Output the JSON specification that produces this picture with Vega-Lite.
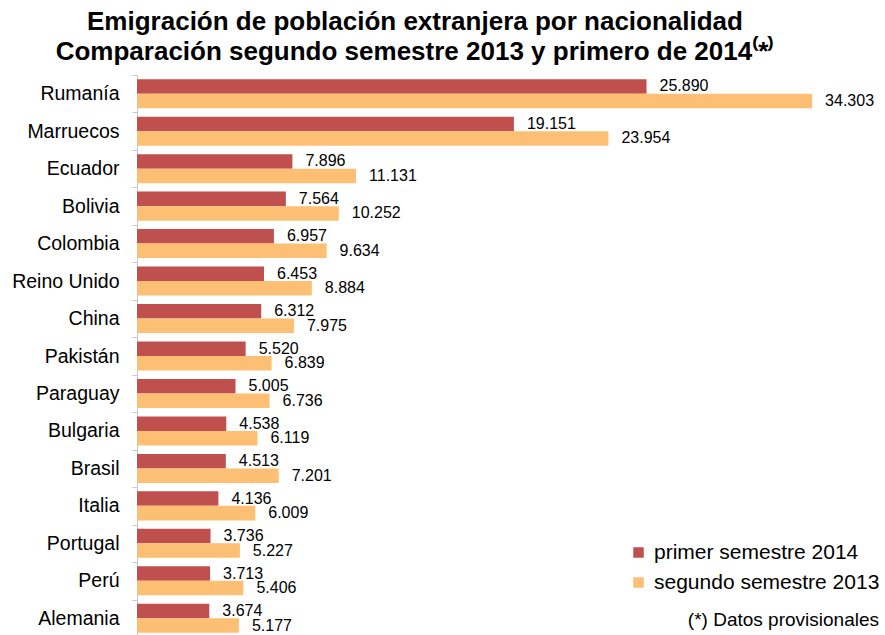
{
  "$schema": "https://vega.github.io/schema/vega-lite/v6.json",
  "width": 740,
  "height": 562,
  "autosize": {"type": "none"},
  "padding": {"left": 137, "top": 75, "right": 8, "bottom": 0},
  "background": "white",
  "config": {
    "font": "Liberation Sans",
    "view": {"stroke": null},
    "locale": {"number": {"decimal": ",", "thousands": ".", "grouping": [3], "currency": ["", " €"]}}
  },
  "title": {
    "text": ["Emigración de población extranjera por nacionalidad", "Comparación segundo semestre 2013 y primero de 2014⁽*⁾"],
    "fontSize": 26,
    "fontWeight": "bold",
    "font": "Liberation Sans",
    "color": "#000000",
    "anchor": "middle",
    "lineHeight": 30,
    "dx": -92,
    "offset": 0
  },
  "data": {
    "values": [
      {"pais": "Rumanía", "serie": "primer semestre 2014", "valor": 25890},
      {"pais": "Rumanía", "serie": "segundo semestre 2013", "valor": 34303},
      {"pais": "Marruecos", "serie": "primer semestre 2014", "valor": 19151},
      {"pais": "Marruecos", "serie": "segundo semestre 2013", "valor": 23954},
      {"pais": "Ecuador", "serie": "primer semestre 2014", "valor": 7896},
      {"pais": "Ecuador", "serie": "segundo semestre 2013", "valor": 11131},
      {"pais": "Bolivia", "serie": "primer semestre 2014", "valor": 7564},
      {"pais": "Bolivia", "serie": "segundo semestre 2013", "valor": 10252},
      {"pais": "Colombia", "serie": "primer semestre 2014", "valor": 6957},
      {"pais": "Colombia", "serie": "segundo semestre 2013", "valor": 9634},
      {"pais": "Reino Unido", "serie": "primer semestre 2014", "valor": 6453},
      {"pais": "Reino Unido", "serie": "segundo semestre 2013", "valor": 8884},
      {"pais": "China", "serie": "primer semestre 2014", "valor": 6312},
      {"pais": "China", "serie": "segundo semestre 2013", "valor": 7975},
      {"pais": "Pakistán", "serie": "primer semestre 2014", "valor": 5520},
      {"pais": "Pakistán", "serie": "segundo semestre 2013", "valor": 6839},
      {"pais": "Paraguay", "serie": "primer semestre 2014", "valor": 5005},
      {"pais": "Paraguay", "serie": "segundo semestre 2013", "valor": 6736},
      {"pais": "Bulgaria", "serie": "primer semestre 2014", "valor": 4538},
      {"pais": "Bulgaria", "serie": "segundo semestre 2013", "valor": 6119},
      {"pais": "Brasil", "serie": "primer semestre 2014", "valor": 4513},
      {"pais": "Brasil", "serie": "segundo semestre 2013", "valor": 7201},
      {"pais": "Italia", "serie": "primer semestre 2014", "valor": 4136},
      {"pais": "Italia", "serie": "segundo semestre 2013", "valor": 6009},
      {"pais": "Portugal", "serie": "primer semestre 2014", "valor": 3736},
      {"pais": "Portugal", "serie": "segundo semestre 2013", "valor": 5227},
      {"pais": "Perú", "serie": "primer semestre 2014", "valor": 3713},
      {"pais": "Perú", "serie": "segundo semestre 2013", "valor": 5406},
      {"pais": "Alemania", "serie": "primer semestre 2014", "valor": 3674},
      {"pais": "Alemania", "serie": "segundo semestre 2013", "valor": 5177}
    ]
  },
  "encoding": {
    "y": {
      "field": "pais",
      "type": "nominal",
      "sort": null,
      "scale": {"paddingInner": 0, "paddingOuter": 0},
      "axis": {
        "title": null,
        "labelFontSize": 19.5,
        "labelColor": "#000000",
        "labelFont": "Liberation Sans",
        "labelPadding": 13,
        "labelLimit": 200,
        "tickBand": "extent",
        "tickSize": 5,
        "tickColor": "#c8c8c8",
        "domainColor": "#c8c8c8",
        "grid": false
      }
    },
    "yOffset": {
      "field": "serie",
      "type": "nominal",
      "sort": ["primer semestre 2014", "segundo semestre 2013"],
      "scale": {"paddingInner": 0, "paddingOuter": 0.29}
    },
    "x": {
      "field": "valor",
      "type": "quantitative",
      "scale": {"domain": [0, 37600], "nice": false},
      "axis": null
    }
  },
  "layer": [
    {
      "mark": {"type": "bar"},
      "encoding": {
        "color": {
          "field": "serie",
          "type": "nominal",
          "sort": ["primer semestre 2014", "segundo semestre 2013"],
          "scale": {"domain": ["primer semestre 2014", "segundo semestre 2013"], "range": ["#c0504d", "#fcbf73"]},
          "legend": {
            "title": "(*) Datos provisionales",
            "titleOrient": "bottom",
            "titleAnchor": "end",
            "titleFontSize": 19,
            "titleFontWeight": "normal",
            "titleColor": "#000000",
            "titleFont": "Liberation Sans",
            "titlePadding": 18,
            "titleLimit": 400,
            "orient": "none",
            "legendX": 491,
            "legendY": 467,
            "padding": 0,
            "symbolType": "square",
            "symbolSize": 110,
            "symbolStrokeWidth": 0,
            "labelFontSize": 21,
            "labelColor": "#000000",
            "labelFont": "Liberation Sans",
            "labelOffset": 5,
            "labelLimit": 400,
            "rowPadding": 8
          }
        }
      }
    },
    {
      "mark": {"type": "text", "align": "left", "baseline": "middle", "dx": 13, "fontSize": 16, "font": "Liberation Sans", "color": "#000000"},
      "encoding": {
        "text": {"field": "valor", "type": "quantitative", "format": ",d"}
      }
    }
  ]
}
